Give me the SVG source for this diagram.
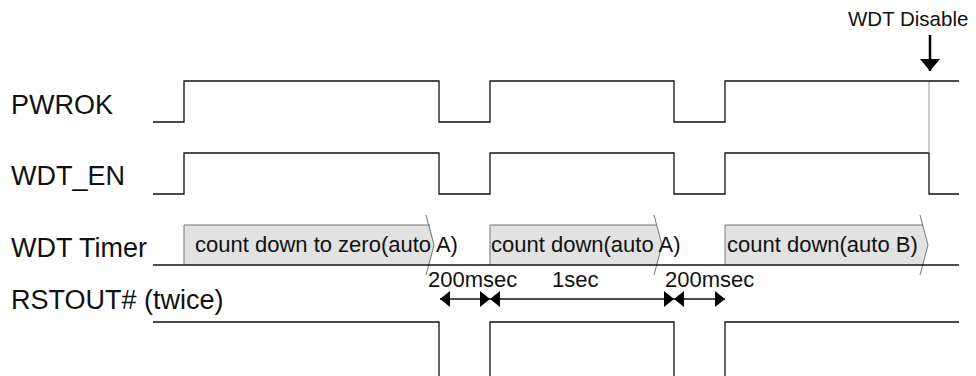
<svg xmlns="http://www.w3.org/2000/svg" width="976" height="376" viewBox="0 0 976 376">
<style>
.lbl{font-family:"Liberation Sans",Arial,sans-serif;font-size:27px;fill:#111}
.bt{font-family:"Liberation Sans",Arial,sans-serif;font-size:22px;fill:#111}
.sig{fill:none;stroke:#111;stroke-width:1.3}
.box{fill:#e2e2e2;stroke:none}
.edge{fill:none;stroke:#777;stroke-width:1}
.dim{fill:none;stroke:#111;stroke-width:1.3}
</style>
<defs>
<marker id="ah" viewBox="0 0 10 16" refX="10" refY="8" markerWidth="10" markerHeight="16" markerUnits="userSpaceOnUse" orient="auto-start-reverse">
<path d="M0,0 L10,8 L0,16 Z" fill="#000"/>
</marker>
<marker id="dn" viewBox="0 0 12 20" refX="12" refY="10" markerWidth="12" markerHeight="20" markerUnits="userSpaceOnUse" orient="auto">
<path d="M0,0 L12,10 L0,20 Z" fill="#000"/>
</marker>
</defs>

<g id="labels">
<text class="lbl" x="11" y="114">PWROK</text>
<text class="lbl" x="11" y="185">WDT_EN</text>
<text class="lbl" x="11" y="257">WDT Timer</text>
<text class="lbl" x="11" y="309">RSTOUT# (twice)</text>
</g>

<g id="PWROK">
<path class="sig" d="M153,122 H184 V81 H439 V122 H490 V81 H674 V122 H725 V81 H959"/>
</g>

<g id="WDT_EN">
<path class="sig" d="M153,194 H184 V153 H439 V194 H490 V153 H674 V194 H725 V153 H929 V194 H959"/>
</g>

<g id="timer1">
<path class="box" d="M184,225 H430 L434,245 L430,265 H184 Z"/>
<path class="edge" d="M184,265 V225 H430"/>
<path class="edge" d="M426,215 L434,245 L426,275"/>
<text class="bt" x="195" y="252">count down to zero(auto A)</text>
</g>
<g id="timer2">
<path class="box" d="M490,225 H657 L662,245 L657,265 H490 Z"/>
<path class="edge" d="M490,265 V225 H657"/>
<path class="edge" d="M654,215 L662,245 L654,275"/>
<text class="bt" x="491" y="252">count down(auto A)</text>
</g>
<g id="timer3">
<path class="box" d="M725,225 H923 L928,245 L923,265 H725 Z"/>
<path class="edge" d="M725,265 V225 H923"/>
<path class="edge" d="M920,215 L928,245 L920,275"/>
<text class="bt" x="727" y="252">count down(auto B)</text>
</g>
<g id="timer-base">
<path class="sig" d="M153,265 H959"/>
</g>

<g id="RSTOUT">
<path class="sig" d="M153,322 H439 V380 M490,380 V322 H674 V380 M725,380 V322 H959"/>
</g>

<g id="wdt-disable">
<text class="bt" x="848" y="26" style="font-size:20.5px">WDT Disable</text>
</g>

<g id="connectors">
<path d="M930,35 V71" fill="none" stroke="#000" stroke-width="2.5" marker-end="url(#dn)"/>
<path d="M929,82 V153" fill="none" stroke="#999" stroke-width="1"/>
<path class="dim" d="M440,299 H490" marker-start="url(#ah)" marker-end="url(#ah)"/>
<path class="dim" d="M490,299 H674" stroke-width="2" marker-start="url(#ah)" marker-end="url(#ah)"/>
<path class="dim" d="M674,299 H725" marker-start="url(#ah)" marker-end="url(#ah)"/>
<text class="bt" x="428" y="287">200msec</text>
<text class="bt" x="552" y="287">1sec</text>
<text class="bt" x="665" y="287">200msec</text>
</g>
</svg>
